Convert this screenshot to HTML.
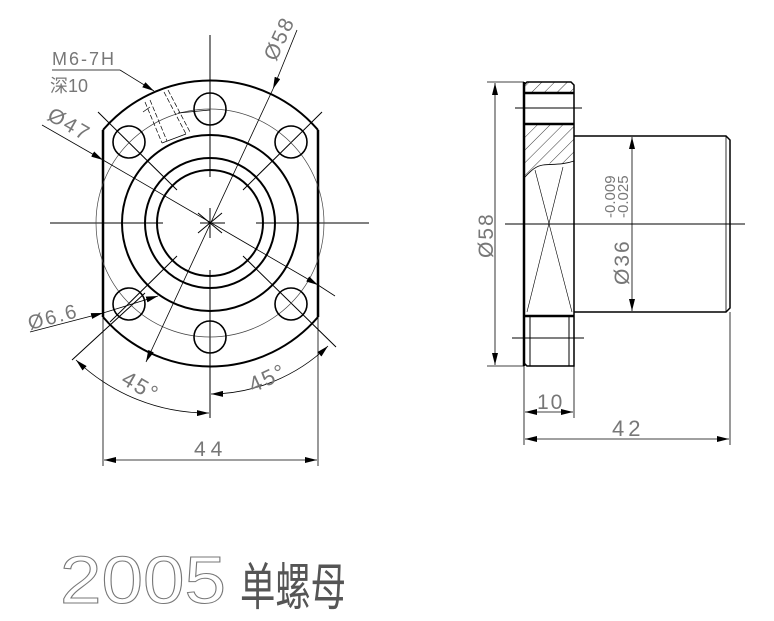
<!DOCTYPE html>
<html><head><meta charset="utf-8"><style>html,body{margin:0;padding:0;background:#fff}svg{display:block}</style></head>
<body>
<svg width="774" height="621" viewBox="0 0 774 621" xmlns="http://www.w3.org/2000/svg">
<defs>
<marker id="a" viewBox="0 0 12 6" refX="12" refY="3" markerWidth="12" markerHeight="6" markerUnits="userSpaceOnUse" orient="auto-start-reverse"><path d="M0,0 L12,3 L0,6z" fill="#000"/></marker>
<pattern id="h" width="9" height="9" patternUnits="userSpaceOnUse" patternTransform="rotate(45)"><line x1="0" y1="0" x2="0" y2="9" stroke="#222" stroke-width="0.9"/></pattern>
<clipPath id="c2"><path d="M524,124 H574 V160 L570,164 C560,163 548,162 540,166 C533,170 528,174 524,178 Z"/></clipPath>
</defs>
<g fill="none" stroke="#000" stroke-width="1">
<line x1="50" y1="223" x2="163" y2="223"/><line x1="200" y1="223" x2="225" y2="223"/><line x1="256" y1="223" x2="369" y2="223"/>
<line x1="210" y1="35" x2="210" y2="177"/><line x1="210" y1="208" x2="210" y2="238"/><line x1="210" y1="270" x2="210" y2="418"/>
<line x1="198" y1="213" x2="222" y2="233"/><line x1="222" y1="213" x2="198" y2="233"/>
<line x1="98" y1="112" x2="177" y2="190"/><line x1="322" y1="112" x2="243" y2="190"/>
<line x1="177" y1="256" x2="110" y2="322"/><line x1="243" y1="256" x2="336" y2="347"/>
<line x1="145" y1="293" x2="72" y2="360"/>
<path d="M103,130 A141.5,141.5 0 0 1 318,130" stroke-width="2"/>
<path d="M103,317 A141.5,141.5 0 0 0 318,317" stroke-width="2"/>
<line x1="103" y1="130" x2="103" y2="317" stroke-width="2.5"/>
<line x1="318" y1="130" x2="318" y2="317" stroke-width="2.5"/>
<circle cx="210" cy="223" r="88" stroke-width="2"/>
<circle cx="210" cy="223" r="65" stroke-width="2"/>
<circle cx="210" cy="223" r="53" stroke-width="2"/>
<circle cx="210" cy="223" r="114" stroke-width="0.7" stroke="#444"/>
<g stroke-width="1.6">
<circle cx="210" cy="109" r="16"/><circle cx="210" cy="337" r="16"/>
<circle cx="129" cy="142" r="16"/><circle cx="291" cy="142" r="16"/>
<circle cx="129" cy="304" r="16"/><circle cx="291" cy="304" r="16"/>
</g>
<g stroke-width="0.7" stroke-dasharray="5,2">
<line x1="145" y1="102" x2="162" y2="143"/><line x1="150" y1="100" x2="167" y2="141"/>
<line x1="164" y1="92" x2="186" y2="134"/><line x1="168" y1="90" x2="190" y2="132"/>
</g>
<line x1="162" y1="143" x2="186" y2="134" stroke-width="0.7"/>
<line x1="143" y1="112" x2="150" y2="107" stroke-width="0.7"/>
<line x1="178" y1="113" x2="210" y2="110" stroke-width="0.7"/>
<line x1="52" y1="70" x2="120" y2="70" stroke-width="0.8"/>
<line x1="120" y1="70" x2="154" y2="91" marker-end="url(#a)" stroke-width="0.8"/>
<line x1="42" y1="125" x2="103" y2="160" marker-end="url(#a)" stroke-width="0.8"/>
<line x1="103" y1="160" x2="318" y2="285" marker-end="url(#a)" stroke-width="0.8"/>
<line x1="318" y1="285" x2="335" y2="296" stroke-width="0.8"/>
<line x1="297" y1="30" x2="273" y2="89" marker-end="url(#a)" stroke-width="0.8"/>
<line x1="273" y1="89" x2="146" y2="362" marker-end="url(#a)" stroke-width="0.8"/>
<line x1="30" y1="332" x2="103" y2="313" marker-end="url(#a)" stroke-width="0.8"/>
<line x1="103" y1="313" x2="158" y2="296" marker-end="url(#a)" stroke-width="0.8"/>
<path d="M76,360 A190,190 0 0 0 209,413" marker-start="url(#a)" marker-end="url(#a)" stroke-width="0.8"/>
<path d="M211,394 A171,171 0 0 0 328,346" marker-start="url(#a)" marker-end="url(#a)" stroke-width="0.8"/>
<line x1="103" y1="317" x2="103" y2="466" stroke-width="0.8"/>
<line x1="318" y1="317" x2="318" y2="466" stroke-width="0.8"/>
<line x1="104" y1="460" x2="317" y2="460" marker-start="url(#a)" marker-end="url(#a)" stroke-width="0.8"/>

<rect x="524" y="82" width="50" height="11" fill="url(#h)" stroke="none"/>
<rect x="524" y="124" width="50" height="55" fill="url(#h)" stroke="none" clip-path="url(#c2)"/>
<path d="M527,82 H571 L574,85 V366 H527 L524,363 V85 Z" stroke-width="1.5"/>
<line x1="524" y1="82" x2="524" y2="366" stroke-width="2.5"/>
<line x1="524" y1="93" x2="574" y2="93" stroke-width="2.5"/>
<line x1="524" y1="124" x2="574" y2="124" stroke-width="2.5"/>
<line x1="524" y1="316" x2="574" y2="316" stroke-width="2.5"/>
<line x1="530" y1="316" x2="530" y2="366"/><line x1="569" y1="316" x2="569" y2="366"/>
<path d="M524,178 C530,172 535,166 543,165 C552,164 563,165 574,161" stroke-width="0.8"/>
<line x1="535" y1="170" x2="572" y2="312" stroke-width="0.6"/>
<line x1="563" y1="167" x2="527" y2="312" stroke-width="0.6"/>
<path d="M574,136 H726 L730,140 V308 L726,312 H574" stroke-width="1.5"/>
<line x1="726" y1="136" x2="726" y2="312" stroke-width="0.8"/>
<line x1="632" y1="312" x2="665" y2="312"/>
<line x1="505" y1="224" x2="745" y2="224"/>
<line x1="515" y1="108" x2="582" y2="108"/>
<line x1="512" y1="338" x2="584" y2="338"/>
<line x1="487" y1="82" x2="524" y2="82" stroke-width="0.8"/>
<line x1="487" y1="366" x2="524" y2="366" stroke-width="0.8"/>
<line x1="495" y1="83" x2="495" y2="365" marker-start="url(#a)" marker-end="url(#a)" stroke-width="0.8"/>
<line x1="632" y1="137" x2="632" y2="311" marker-start="url(#a)" marker-end="url(#a)" stroke-width="0.8"/>
<line x1="524" y1="366" x2="524" y2="445" stroke-width="0.8"/>
<line x1="574" y1="366" x2="574" y2="418" stroke-width="0.8"/>
<line x1="730" y1="312" x2="730" y2="445" stroke-width="0.8"/>
<line x1="525" y1="412" x2="573" y2="412" marker-start="url(#a)" marker-end="url(#a)" stroke-width="0.8"/>
<line x1="525" y1="439" x2="729" y2="439" marker-start="url(#a)" marker-end="url(#a)" stroke-width="0.8"/>
</g>
<g fill="#777" font-family="Liberation Sans, sans-serif" font-size="19" letter-spacing="2">
<text x="52" y="65" font-size="18">M6-7H</text>
<text x="50" y="92" font-size="18" letter-spacing="0" font-family="Liberation Sans, Noto Sans CJK SC, sans-serif">深10</text>
<text transform="translate(46,119) rotate(30)" font-size="21">Ø47</text>
<text transform="translate(276,62) rotate(-65)" font-size="21">Ø58</text>
<text transform="translate(30,330) rotate(-15)" font-size="20">Ø6.6</text>
<text transform="translate(120,383) rotate(30)" font-size="22">45°</text>
<text transform="translate(253,393) rotate(-25)" font-size="22">45°</text>
<text x="194" y="456" font-size="21" letter-spacing="5">44</text>
<text transform="translate(493,258) rotate(-90)" font-size="21">Ø58</text>
<text transform="translate(629,285) rotate(-90)" font-size="21">Ø36</text>
<text transform="translate(615,218) rotate(-90)" font-size="15" letter-spacing="0">-0.009</text>
<text transform="translate(628,218) rotate(-90)" font-size="15" letter-spacing="0">-0.025</text>
<text x="537" y="409" font-size="21">10</text>
<text x="612" y="436" font-size="22" letter-spacing="4">42</text>
<text x="60" y="603" font-size="67" fill="none" stroke="#777" stroke-width="1" letter-spacing="0" textLength="166" lengthAdjust="spacingAndGlyphs">2005</text>
<text x="240" y="602" font-size="36" fill="#555" letter-spacing="0" font-family="Liberation Sans, Noto Sans CJK SC, sans-serif" textLength="106" lengthAdjust="spacingAndGlyphs" transform="translate(0,-250) scale(1,1.42)">单螺母</text>
</g>
</svg>
</body></html>
